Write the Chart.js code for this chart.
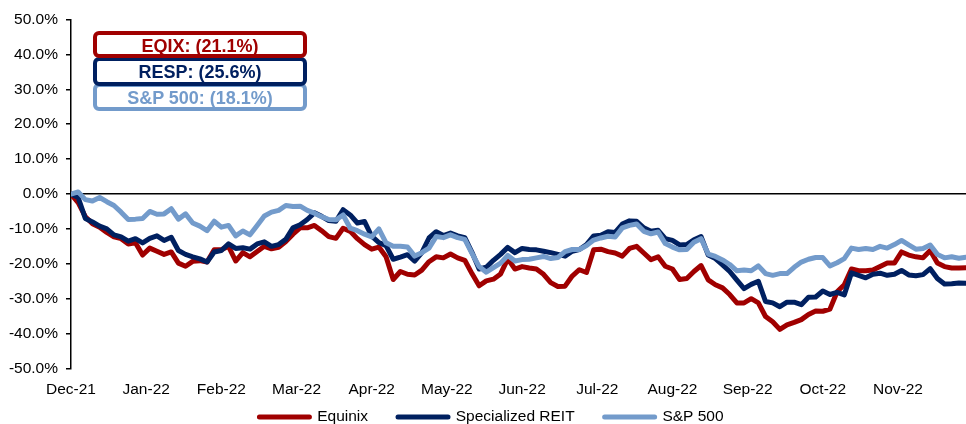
<!DOCTYPE html>
<html><head><meta charset="utf-8">
<script src="https://cdn.jsdelivr.net/npm/chart.js@4.4.1/dist/chart.umd.min.js"></script>
<style>
html,body{margin:0;padding:0;background:#fff;overflow:hidden;}
#wrap{position:relative;width:966px;height:424px;}
canvas{display:block;}
.tag{position:absolute;left:93px;width:214px;box-sizing:border-box;border:4.5px solid;border-radius:6px;background:#fff;
  font:bold 18px "Liberation Sans",Arial,sans-serif;display:flex;align-items:center;justify-content:center;line-height:1;}
</style></head>
<body>
<div id="wrap">
<canvas id="c" width="966" height="424"></canvas>
<div class="tag" id="tagEq" style="top:31px;height:27px;padding-top:2px;z-index:3;"></div>
<div class="tag" id="tagRe" style="top:57px;height:29px;z-index:2;"></div>
<div class="tag" id="tagSp" style="top:83px;height:28px;padding-top:2px;z-index:1;"></div>
</div>
<script>
// ---- data ----
const monthLabels = ['Dec-21','Jan-22','Feb-22','Mar-22','Apr-22','May-22','Jun-22','Jul-22','Aug-22','Sep-22','Oct-22','Nov-22'];
const seriesNames = ['Equinix','Specialized REIT','S&P 500'];
const summaryLabels = ['EQIX: (21.1%)','RESP: (25.6%)','S&P 500: (18.1%)'];
// cumulative return (%), sampled every 2 trading days
const equinix = [
  0, -2.5, -6.5, -8.5, -9.5, -11.0, -12.3, -12.8, -14.3, -14.0,
  -17.5, -15.5, -16.4, -17.3, -16.6, -19.8, -20.7, -19.3, -19.1, -19.5,
  -16.0, -16.0, -15.0, -19.2, -16.8, -18.0, -16.5, -15.0, -15.7, -15.3,
  -13.6, -11.5, -9.7, -9.7, -9.0, -10.5, -12.2, -12.7, -9.8, -10.7,
  -12.8, -14.5, -15.8, -15.2, -18.0, -24.5, -22.2, -23.0, -23.2, -21.8,
  -19.4, -18.0, -18.3, -17.2, -18.3, -19.0, -22.8, -26.3, -24.9, -24.4,
  -22.9, -18.6, -21.5, -20.8, -21.2, -21.5, -23.0, -25.4, -26.5, -26.4,
  -23.5, -21.7, -22.5, -16.0, -15.8, -16.5, -16.9, -17.8, -15.6, -15.0,
  -16.9, -18.8, -18.0, -20.7, -21.5, -24.5, -24.2, -22.2, -20.5, -24.6,
  -26.0, -26.9, -28.8, -31.2, -31.2, -30.0, -31.2, -35.1, -36.6, -38.8,
  -37.5, -36.8, -36.0, -34.5, -33.5, -33.6, -33.0, -28.0, -26.0, -21.5,
  -22.0, -22.0, -21.8, -20.8, -19.8, -19.8, -16.6, -17.5, -18.0, -18.3,
  -16.2, -19.8, -20.8, -21.2, -21.2, -21.1
];
const specializedReit = [
  0, -1.0, -7.0, -8.0, -9.2, -10.0, -11.7, -12.3, -13.5, -12.8,
  -14.0, -12.7, -12.0, -13.3, -12.4, -16.2, -17.3, -18.0, -18.6, -19.5,
  -16.6, -16.2, -14.3, -15.6, -15.4, -15.8, -14.3, -13.7, -15.0, -14.5,
  -13.0, -9.7, -8.8, -7.3, -5.4, -6.4, -7.6, -7.8, -4.5, -6.0,
  -8.3, -7.9, -12.1, -13.9, -14.8, -18.7, -18.1, -17.4, -19.2, -16.8,
  -12.6, -10.8, -11.9, -11.2, -12.0, -12.5, -16.7, -21.5, -21.0, -19.0,
  -17.3, -15.3, -16.8, -15.6, -15.9, -16.0, -16.4, -16.8, -17.3, -17.8,
  -16.4, -15.9, -14.5, -12.0, -11.8, -10.8, -11.0, -8.6, -7.7, -7.8,
  -9.7, -10.7, -10.4, -12.8, -13.3, -14.6, -14.5, -13.1, -12.2, -17.5,
  -18.5, -20.3, -22.2, -24.7, -27.1, -25.9, -25.0, -30.8, -31.2, -32.3,
  -31.0, -31.0, -31.7, -29.6, -29.5, -27.8, -28.8, -28.2, -28.9, -22.6,
  -23.3, -24.0, -23.0, -22.7, -23.3, -23.0, -21.9, -23.2, -23.4, -23.1,
  -21.4, -24.2, -25.8, -25.7, -25.5, -25.6
];
const sp500 = [
  0, 0.6, -1.6, -2.0, -1.0, -2.2, -3.3, -5.2, -7.3, -7.2,
  -7.0, -5.0, -5.8, -5.7, -4.2, -7.2, -5.7, -8.3, -9.2, -10.5,
  -7.8, -9.5, -9.0, -12.0, -10.6, -11.7, -9.0, -6.3, -5.2, -4.7,
  -3.3, -3.6, -3.5, -4.7, -5.5, -6.5, -7.3, -7.4, -6.0, -9.8,
  -10.5, -11.5, -12.3, -10.0, -14.0, -15.0, -15.0, -15.2, -17.8, -16.8,
  -15.5, -12.2, -12.5, -11.7, -12.5, -13.0, -17.0, -20.8, -22.4, -21.1,
  -19.8, -17.6, -19.2, -18.8, -18.7, -18.3, -17.9, -18.5, -18.2, -16.5,
  -15.9, -15.9, -14.8, -13.2, -12.6, -12.1, -12.3, -9.7, -9.0, -8.6,
  -10.7, -11.4, -10.9, -14.2, -15.2, -16.0, -15.9, -13.8, -12.8, -17.2,
  -17.9, -18.9, -20.2, -22.0, -21.8, -22.0, -20.6, -22.8, -23.3, -22.8,
  -22.8, -21.0, -19.5, -18.7, -18.2, -18.2, -20.6, -19.7, -18.5, -15.5,
  -15.9, -15.6, -15.9, -15.0, -15.5, -14.5, -13.3, -14.6, -15.8, -15.6,
  -14.6, -17.3, -18.3, -18.0, -18.4, -18.1
];
const yTicks = [50, 40, 30, 20, 10, 0, -10, -20, -30, -40, -50];

// ---- styling ----
const COLORS = ['#A00000', '#002060', '#739BCB'];
const DAYS_PER_POINT = 2, DAYS_PER_LABEL = 21;
const FONT = '"Liberation Sans", Arial, sans-serif';

document.getElementById('tagEq').textContent = summaryLabels[0];
document.getElementById('tagRe').textContent = summaryLabels[1];
document.getElementById('tagSp').textContent = summaryLabels[2];
['tagEq','tagRe','tagSp'].forEach((id, i) => {
  const el = document.getElementById(id);
  el.style.borderColor = COLORS[i]; el.style.color = COLORS[i];
});

const toPts = arr => arr.map((v, i) => ({x: i * DAYS_PER_POINT, y: v}));
const allSeries = [equinix, specializedReit, sp500];

Chart.defaults.color = '#000';
Chart.defaults.font.family = FONT;

const legendShift = {
  id: 'legendShift',
  afterLayout(chart) {
    const lg = chart.legend;
    if (!lg) return;
    const pad = lg.options.labels.padding;
    const fs = lg.options.labels.font.size;
    const targetCenter = 417;
    const newTop = targetCenter - pad - fs / 2;
    const h = lg.bottom - lg.top;
    lg.top = newTop; lg.bottom = newTop + h;
    lg.left += 8.5; lg.right += 8.5;
  }
};

new Chart(document.getElementById('c'), {
  type: 'line',
  data: {
    datasets: allSeries.map((s, i) => ({
      label: seriesNames[i],
      data: toPts(s),
      borderColor: COLORS[i],
      backgroundColor: COLORS[i],
      borderWidth: 5,
      pointRadius: 0,
      tension: 0,
      borderJoinStyle: 'round',
      borderCapStyle: 'round',
      order: 2 - i
    }))
  },
  options: {
    responsive: false,
    animation: false,
    devicePixelRatio: 1,
    layout: {padding: {top: 19.5, right: 0, left: 0, bottom: -31}},
    plugins: {
      tooltip: {enabled: false},
      legend: {
        position: 'bottom',
        labels: {
          usePointStyle: true,
          pointStyleWidth: 50,
          padding: 30,
          font: {size: 15.5, family: FONT},
          color: '#000',
          generateLabels: (chart) => chart.data.datasets.map((ds, i) => ({
            text: ds.label,
            fillStyle: ds.borderColor,
            strokeStyle: ds.borderColor,
            lineWidth: 5,
            lineCap: 'round',
            pointStyle: 'line',
            hidden: false,
            datasetIndex: i
          }))
        }
      }
    },
    scales: {
      x: {
        type: 'linear',
        min: 0,
        max: (sp500.length - 1) * DAYS_PER_POINT,
        afterBuildTicks: (scale) => { scale.ticks = monthLabels.map((_, i) => ({value: i * DAYS_PER_LABEL})); },
        afterFit: (scale) => { scale.height = 31; },
        grid: {display: false, drawTicks: false},
        border: {display: false},
        ticks: {
          autoSkip: false, maxRotation: 0, padding: 12,
          font: {size: 15.5, family: FONT}, color: '#000',
          callback: (v) => monthLabels[Math.round(v / DAYS_PER_LABEL)]
        }
      },
      y: {
        min: -50, max: 50,
        afterBuildTicks: (scale) => { scale.ticks = yTicks.map(v => ({value: v})); },
        afterFit: (scale) => { scale.width = 71; },
        grid: {
          color: (ctx) => (ctx.tick && ctx.tick.value === 0) ? '#000' : 'rgba(0,0,0,0)',
          tickColor: '#000',
          tickLength: 5,
          lineWidth: 1.5,
          drawOnChartArea: true
        },
        border: {display: true, color: '#000', width: 1.5},
        ticks: {
          padding: 8,
          font: {size: 15.5, family: FONT}, color: '#000',
          callback: (v) => v.toFixed(1) + '%'
        }
      }
    }
  },
  plugins: [legendShift]
});
</script>
</body></html>
